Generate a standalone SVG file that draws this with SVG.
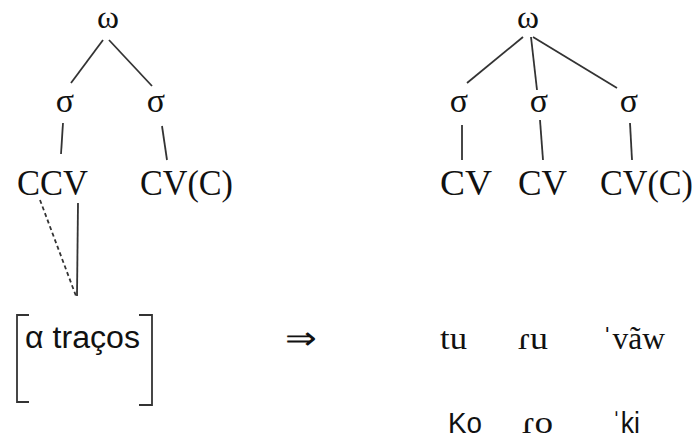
<svg xmlns="http://www.w3.org/2000/svg" width="695" height="441" viewBox="0 0 695 441">
<style>
.s{font-family:"Liberation Serif","Times New Roman",serif;fill:#111}
.ss{font-family:"Liberation Sans",Arial,sans-serif;fill:#111}
.l{stroke:#333;stroke-width:1.8;fill:none}
</style>
<rect width="695" height="441" fill="#fff"/>
<g id="left-tree">
<g id="n-omega-l"><text class="s" x="97" y="28" font-size="31" textLength="22" lengthAdjust="spacingAndGlyphs">ω</text></g>
<g id="n-sigma-l1"><text class="s" x="65" y="112" font-size="34" text-anchor="middle">σ</text></g>
<g id="n-sigma-l2"><text class="s" x="156" y="112" font-size="34" text-anchor="middle">σ</text></g>
<g id="n-ccv"><text class="s" x="17" y="195" font-size="35" textLength="71" lengthAdjust="spacingAndGlyphs">CCV</text></g>
<g id="n-cvc-l"><text class="s" x="140" y="195" font-size="35" textLength="93" lengthAdjust="spacingAndGlyphs">CV(C)</text></g>
<g id="n-features">
<text class="ss" x="25" y="348" font-size="31" textLength="115" lengthAdjust="spacingAndGlyphs">α traços</text>
<path class="l" d="M29 315 H17 V402 H29"/>
<path class="l" d="M139 315 H152 V405 H139"/>
</g>
</g>
<g id="right-tree">
<g id="n-omega-r"><text class="s" x="517" y="28" font-size="31" textLength="22" lengthAdjust="spacingAndGlyphs">ω</text></g>
<g id="n-sigma-r1"><text class="s" x="459" y="112" font-size="34" text-anchor="middle">σ</text></g>
<g id="n-sigma-r2"><text class="s" x="539" y="112" font-size="34" text-anchor="middle">σ</text></g>
<g id="n-sigma-r3"><text class="s" x="629" y="112" font-size="34" text-anchor="middle">σ</text></g>
<g id="n-cv1"><text class="s" x="440" y="195" font-size="35" textLength="52" lengthAdjust="spacingAndGlyphs">CV</text></g>
<g id="n-cv2"><text class="s" x="518" y="195" font-size="35" textLength="49" lengthAdjust="spacingAndGlyphs">CV</text></g>
<g id="n-cvc-r"><text class="s" x="600" y="195" font-size="35" textLength="93" lengthAdjust="spacingAndGlyphs">CV(C)</text></g>
</g>
<g id="arrow"><text class="s" x="285" y="349" font-size="32" textLength="32" lengthAdjust="spacingAndGlyphs">⇒</text></g>
<g id="words">
<text class="s" x="440" y="349" font-size="31" textLength="27" lengthAdjust="spacingAndGlyphs">tu</text>
<text class="s" x="518" y="349" font-size="31" textLength="30" lengthAdjust="spacingAndGlyphs">ɾu</text>
<text class="s" x="602" y="349" font-size="31" textLength="63" lengthAdjust="spacingAndGlyphs">ˈvãw</text>
<text class="ss" x="448" y="433" font-size="29" textLength="34" lengthAdjust="spacingAndGlyphs">Ko</text>
<text class="s" x="522" y="433" font-size="31" textLength="31" lengthAdjust="spacingAndGlyphs">ɾo</text>
<text class="ss" x="612" y="433" font-size="29" textLength="28" lengthAdjust="spacingAndGlyphs">ˈki</text>
</g>
<g id="connectors">
<line class="l" x1="103" y1="40" x2="71" y2="83"/>
<line class="l" x1="109" y1="40" x2="152" y2="86"/>
<line class="l" x1="63" y1="123" x2="61" y2="154"/>
<line class="l" x1="162" y1="126" x2="167" y2="160"/>
<line class="l" x1="40" y1="200" x2="76" y2="296" stroke-dasharray="4 3"/>
<line class="l" x1="78" y1="203" x2="77" y2="296"/>
<line class="l" x1="523" y1="37" x2="467" y2="83"/>
<line class="l" x1="531" y1="37" x2="537" y2="90"/>
<line class="l" x1="533" y1="37" x2="617" y2="88"/>
<line class="l" x1="462" y1="125" x2="462" y2="160"/>
<line class="l" x1="540" y1="120" x2="543" y2="160"/>
<line class="l" x1="630" y1="123" x2="632" y2="160"/>
</g>
</svg>
